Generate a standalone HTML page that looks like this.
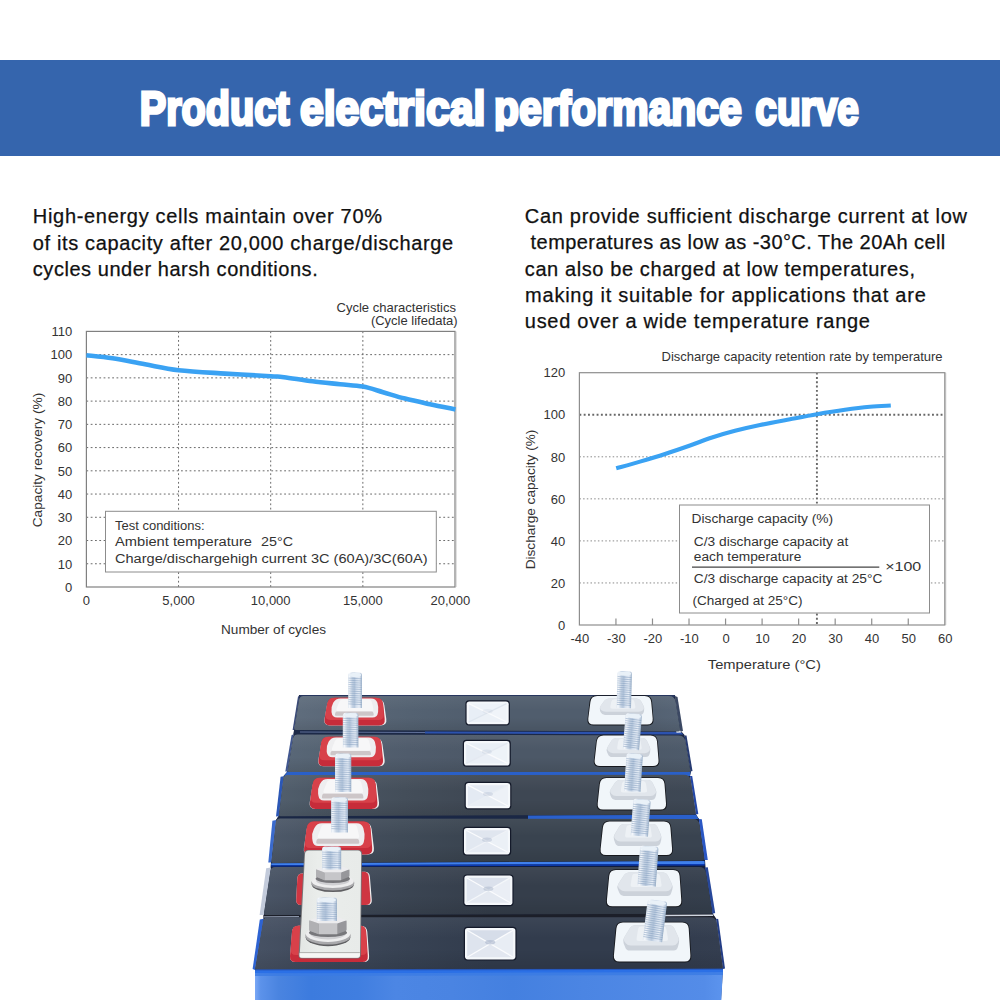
<!DOCTYPE html>
<html><head><meta charset="utf-8"><title>Product electrical performance curve</title>
<style>
html,body{margin:0;padding:0;background:#fff;}
body{width:1000px;height:1000px;overflow:hidden;position:relative;font-family:"Liberation Sans",sans-serif;}
svg{position:absolute;left:0;top:0;}
svg text{font-family:"Liberation Sans",sans-serif;}
.banner{position:absolute;left:0;top:60px;width:1000px;height:95.6px;background:#3565ad;}
.title{position:absolute;left:141px;top:60px;height:95px;white-space:nowrap;color:#fff;font-weight:bold;font-size:52px;line-height:95px;transform-origin:0 50%;}
.p{position:absolute;white-space:nowrap;color:#111;-webkit-text-stroke:0.25px #111;font-size:20px;line-height:24px;height:24px;}
</style></head><body>
<div class="banner"></div>
<div class="p" style="left:32.800000000000004px;top:204.1px;letter-spacing:0.691px">High-energy cells maintain over 70%</div>
<div class="p" style="left:32.800000000000004px;top:230.8px;letter-spacing:0.635px">of its capacity after 20,000 charge/discharge</div>
<div class="p" style="left:32.800000000000004px;top:257.2px;letter-spacing:0.547px">cycles under harsh conditions.</div>
<div class="p" style="left:524.8000000000001px;top:204.1px;letter-spacing:0.703px">Can provide sufficient discharge current at low</div>
<div class="p" style="left:530.6px;top:230.4px;letter-spacing:0.428px">temperatures as low as -30°C. The 20Ah cell</div>
<div class="p" style="left:524.8000000000001px;top:257.1px;letter-spacing:0.598px">can also be charged at low temperatures,</div>
<div class="p" style="left:525.1px;top:282.9px;letter-spacing:0.761px">making it suitable for applications that are</div>
<div class="p" style="left:524.8000000000001px;top:309.1px;letter-spacing:0.724px">used over a wide temperature range</div>
<svg width="1000" height="1000" viewBox="0 0 1000 1000">
<defs><clipPath id="tclip"><rect x="0" y="60" width="1000" height="71.5"/></clipPath></defs><text x="139.7" y="125.0" font-size="47.5" font-weight="bold" fill="#fff" stroke="#fff" stroke-width="3.0" stroke-linejoin="miter" textLength="149.8" lengthAdjust="spacingAndGlyphs" clip-path="url(#tclip)">Product</text><text x="299.9" y="125.0" font-size="47.5" font-weight="bold" fill="#fff" stroke="#fff" stroke-width="3.0" stroke-linejoin="miter" textLength="185.6" lengthAdjust="spacingAndGlyphs" clip-path="url(#tclip)">electrical</text><text x="493.9" y="125.0" font-size="47.5" font-weight="bold" fill="#fff" stroke="#fff" stroke-width="3.0" stroke-linejoin="miter" textLength="248.0" lengthAdjust="spacingAndGlyphs" clip-path="url(#tclip)">performance</text><text x="755.3" y="125.0" font-size="47.5" font-weight="bold" fill="#fff" stroke="#fff" stroke-width="3.0" stroke-linejoin="miter" textLength="103.6" lengthAdjust="spacingAndGlyphs" clip-path="url(#tclip)">curve</text>
<g fill="none" stroke="#6a6a6a" stroke-width="1" stroke-dasharray="1.8 2.5"><line x1="86.4" y1="563.76" x2="455.0" y2="563.76"/><line x1="86.4" y1="540.53" x2="455.0" y2="540.53"/><line x1="86.4" y1="517.29" x2="455.0" y2="517.29"/><line x1="86.4" y1="494.05" x2="455.0" y2="494.05"/><line x1="86.4" y1="470.82" x2="455.0" y2="470.82"/><line x1="86.4" y1="447.58" x2="455.0" y2="447.58"/><line x1="86.4" y1="424.35" x2="455.0" y2="424.35"/><line x1="86.4" y1="401.11" x2="455.0" y2="401.11"/><line x1="86.4" y1="377.87" x2="455.0" y2="377.87"/><line x1="86.4" y1="354.64" x2="455.0" y2="354.64"/><line x1="178.55" y1="331.4" x2="178.55" y2="587.0"/><line x1="270.70" y1="331.4" x2="270.70" y2="587.0"/><line x1="362.85" y1="331.4" x2="362.85" y2="587.0"/></g>
<rect x="86.4" y="331.4" width="368.6" height="255.60000000000002" fill="none" stroke="#808080" stroke-width="1.2"/>
<line x1="455.8" y1="331.4" x2="455.8" y2="587.0" stroke="#b5b5b5" stroke-width="1.2"/>
<path d="M86.4,355.2 C90.75,355.70 102.73,356.68 112.5,358.2 C122.27,359.72 133.98,362.30 145,364.3 C156.02,366.30 165.27,368.65 178.6,370.2 C191.93,371.75 209.65,372.60 225,373.6 C240.35,374.60 260.87,375.60 270.7,376.2 C280.53,376.80 277.03,376.35 284,377.2 C290.97,378.05 303.17,380.13 312.5,381.3 C321.83,382.47 331.62,383.32 340,384.2 C348.38,385.08 355.63,385.27 362.8,386.6 C369.97,387.93 375.97,390.20 383,392.2 C390.03,394.20 397.17,396.60 405,398.6 C412.83,400.60 421.58,402.40 430,404.2 C438.42,406.00 451.25,408.53 455.5,409.4" fill="none" stroke="#3aa2f3" stroke-width="4.6"/>
<text x="72.3" y="591.7" font-size="13" text-anchor="end" fill="#333">0</text><text x="72.3" y="568.5" font-size="13" text-anchor="end" fill="#333">10</text><text x="72.3" y="545.2" font-size="13" text-anchor="end" fill="#333">20</text><text x="72.3" y="522.0" font-size="13" text-anchor="end" fill="#333">30</text><text x="72.3" y="498.8" font-size="13" text-anchor="end" fill="#333">40</text><text x="72.3" y="475.5" font-size="13" text-anchor="end" fill="#333">50</text><text x="72.3" y="452.3" font-size="13" text-anchor="end" fill="#333">60</text><text x="72.3" y="429.0" font-size="13" text-anchor="end" fill="#333">70</text><text x="72.3" y="405.8" font-size="13" text-anchor="end" fill="#333">80</text><text x="72.3" y="382.6" font-size="13" text-anchor="end" fill="#333">90</text><text x="72.3" y="359.3" font-size="13" text-anchor="end" fill="#333">100</text><text x="72.3" y="336.1" font-size="13" text-anchor="end" fill="#333">110</text>
<text x="86.4" y="605.2" font-size="13" text-anchor="middle" fill="#333">0</text><text x="178.6" y="605.2" font-size="13" text-anchor="middle" fill="#333">5,000</text><text x="270.7" y="605.2" font-size="13" text-anchor="middle" fill="#333">10,000</text><text x="362.9" y="605.2" font-size="13" text-anchor="middle" fill="#333">15,000</text><text x="470.2" y="605.2" font-size="13" text-anchor="end" fill="#333">20,000</text>
<text x="456" y="312" font-size="13" text-anchor="end" textLength="119.5" lengthAdjust="spacingAndGlyphs" fill="#333">Cycle characteristics</text><text x="457.6" y="325.2" font-size="13" text-anchor="end" fill="#333">(Cycle lifedata)</text><text x="273.5" y="634" font-size="13" text-anchor="middle" textLength="105" lengthAdjust="spacingAndGlyphs" fill="#333">Number of cycles</text><text transform="translate(41.7,460) rotate(-90)" font-size="13" text-anchor="middle" textLength="134.5" lengthAdjust="spacingAndGlyphs" fill="#333">Capacity recovery (%)</text>
<rect x="105.5" y="511.3" width="330.8" height="60.7" fill="#fff" stroke="#8c8c8c" stroke-width="1"/>
<text x="115" y="530" font-size="12.5" textLength="89.5" lengthAdjust="spacingAndGlyphs" fill="#333">Test conditions:</text><text x="115" y="546.3" font-size="12.5" textLength="137" lengthAdjust="spacingAndGlyphs" fill="#333">Ambient temperature</text><text x="261" y="546.3" font-size="12.5" textLength="32" lengthAdjust="spacingAndGlyphs" fill="#333">25°C</text><text x="115" y="562.5" font-size="12.5" textLength="312.5" lengthAdjust="spacingAndGlyphs" fill="#333">Charge/dischargehigh current 3C (60A)/3C(60A)</text>
<g fill="none" stroke="#8a8a8a" stroke-width="1" stroke-dasharray="1.5 2.2"><line x1="579.4" y1="582.95" x2="944.8" y2="582.95"/><line x1="579.4" y1="540.90" x2="944.8" y2="540.90"/><line x1="579.4" y1="498.85" x2="944.8" y2="498.85"/><line x1="579.4" y1="456.80" x2="944.8" y2="456.80"/></g>
<line x1="579.4" y1="414.75" x2="944.8" y2="414.75" stroke="#686868" stroke-width="1.9" stroke-dasharray="1.9 2.4"/>
<line x1="816.91" y1="372.7" x2="816.91" y2="625.0" stroke="#686868" stroke-width="1.9" stroke-dasharray="1.9 2.4"/>
<rect x="579.4" y="372.7" width="365.4" height="252.3" fill="none" stroke="#8e8e8e" stroke-width="1.2"/>
<line x1="945.5999999999999" y1="372.7" x2="945.5999999999999" y2="625.0" stroke="#bdbdbd" stroke-width="1.2"/>
<g stroke="#8e8e8e" stroke-width="1.2"><line x1="615.94" y1="618.5" x2="615.94" y2="625.0"/><line x1="652.48" y1="618.5" x2="652.48" y2="625.0"/><line x1="689.02" y1="618.5" x2="689.02" y2="625.0"/><line x1="725.56" y1="618.5" x2="725.56" y2="625.0"/><line x1="762.10" y1="618.5" x2="762.10" y2="625.0"/><line x1="798.64" y1="618.5" x2="798.64" y2="625.0"/><line x1="835.18" y1="618.5" x2="835.18" y2="625.0"/><line x1="871.72" y1="618.5" x2="871.72" y2="625.0"/><line x1="908.26" y1="618.5" x2="908.26" y2="625.0"/></g>
<path d="M616.2,468.3 C620.17,467.18 631.87,463.98 640,461.6 C648.13,459.22 656.67,456.68 665,454 C673.33,451.32 682.17,448.25 690,445.5 C697.83,442.75 704.50,439.95 712,437.5 C719.50,435.05 727.00,432.88 735,430.8 C743.00,428.72 750.83,426.93 760,425 C769.17,423.07 780.50,421.00 790,419.2 C799.50,417.40 807.83,415.77 817,414.2 C826.17,412.63 836.17,411.03 845,409.8 C853.83,408.57 862.37,407.52 870,406.8 C877.63,406.08 887.33,405.72 890.8,405.5" fill="none" stroke="#3aa2f3" stroke-width="4.1"/>
<text x="565.3" y="629.7" font-size="13" text-anchor="end" fill="#333">0</text><text x="565.3" y="587.7" font-size="13" text-anchor="end" fill="#333">20</text><text x="565.3" y="545.6" font-size="13" text-anchor="end" fill="#333">40</text><text x="565.3" y="503.6" font-size="13" text-anchor="end" fill="#333">60</text><text x="565.3" y="461.5" font-size="13" text-anchor="end" fill="#333">80</text><text x="565.3" y="419.4" font-size="13" text-anchor="end" fill="#333">100</text><text x="565.3" y="377.4" font-size="13" text-anchor="end" fill="#333">120</text>
<text x="579.8" y="642.6" font-size="13" text-anchor="middle" fill="#333">-40</text><text x="616.3" y="642.6" font-size="13" text-anchor="middle" fill="#333">-30</text><text x="652.9" y="642.6" font-size="13" text-anchor="middle" fill="#333">-20</text><text x="689.4" y="642.6" font-size="13" text-anchor="middle" fill="#333">-10</text><text x="726.0" y="642.6" font-size="13" text-anchor="middle" fill="#333">0</text><text x="762.5" y="642.6" font-size="13" text-anchor="middle" fill="#333">10</text><text x="799.0" y="642.6" font-size="13" text-anchor="middle" fill="#333">20</text><text x="835.6" y="642.6" font-size="13" text-anchor="middle" fill="#333">30</text><text x="872.1" y="642.6" font-size="13" text-anchor="middle" fill="#333">40</text><text x="908.7" y="642.6" font-size="13" text-anchor="middle" fill="#333">50</text><text x="945.2" y="642.6" font-size="13" text-anchor="middle" fill="#333">60</text>
<text x="942.6" y="361" font-size="13" text-anchor="end" textLength="281" lengthAdjust="spacingAndGlyphs" fill="#333">Discharge capacity retention rate by temperature</text><text x="764.3" y="668.8" font-size="13" text-anchor="middle" textLength="113" lengthAdjust="spacingAndGlyphs" fill="#333">Temperature (°C)</text><text transform="translate(535,499.5) rotate(-90)" font-size="13" text-anchor="middle" textLength="139.5" lengthAdjust="spacingAndGlyphs" fill="#333">Discharge capacity (%)</text>
<rect x="679.5" y="505" width="250" height="108" fill="#fff" stroke="#8c8c8c" stroke-width="1"/>
<text x="691.6" y="522.6" font-size="12.5" textLength="141.5" lengthAdjust="spacingAndGlyphs" fill="#333">Discharge capacity (%)</text><text x="693.8" y="545.8" font-size="12.5" textLength="154.5" lengthAdjust="spacingAndGlyphs" fill="#333">C/3 discharge capacity at</text><text x="693.8" y="560.8" font-size="12.5" textLength="107.5" lengthAdjust="spacingAndGlyphs" fill="#333">each temperature</text><line x1="692" y1="567.2" x2="879.3" y2="567.2" stroke="#444" stroke-width="1.2"/><text x="693.8" y="582.6" font-size="12.5" textLength="188.5" lengthAdjust="spacingAndGlyphs" fill="#333">C/3 discharge capacity at 25°C</text><text x="692.5" y="605" font-size="12.5" textLength="110" lengthAdjust="spacingAndGlyphs" fill="#333">(Charged at 25°C)</text><text x="885.2" y="570.8" font-size="12.5" textLength="36" lengthAdjust="spacingAndGlyphs" fill="#333">×100</text>
<defs>
<linearGradient id="bolt" x1="0" x2="1" y1="0" y2="0">
<stop offset="0" stop-color="#dfe7f0"/><stop offset="0.1" stop-color="#f5f8fc"/><stop offset="0.3" stop-color="#c5d3e4"/><stop offset="0.45" stop-color="#b7c8dd"/><stop offset="0.6" stop-color="#d5e0ee"/><stop offset="0.8" stop-color="#e6edf6"/><stop offset="0.93" stop-color="#bccbde"/><stop offset="1" stop-color="#9bb0c7"/>
</linearGradient>
<linearGradient id="face" x1="0" x2="1" y1="0" y2="0">
<stop offset="0" stop-color="#2b2e36"/><stop offset="0.45" stop-color="#33363e"/><stop offset="1" stop-color="#2c2f37"/>
</linearGradient>
<linearGradient id="front" x1="0" x2="1" y1="0" y2="0">
<stop offset="0" stop-color="#7aa8f6"/><stop offset="0.012" stop-color="#5c92ea"/><stop offset="0.05" stop-color="#4a84e0"/><stop offset="0.12" stop-color="#3c7bde"/><stop offset="0.22" stop-color="#407ee0"/><stop offset="0.3" stop-color="#4c86e4"/><stop offset="0.42" stop-color="#4a84e2"/><stop offset="0.55" stop-color="#4480e0"/><stop offset="0.7" stop-color="#4b85e3"/><stop offset="0.96" stop-color="#548ce8"/><stop offset="1" stop-color="#5c94ee"/>
</linearGradient>
<linearGradient id="steel" x1="0" x2="0" y1="0" y2="1">
<stop offset="0" stop-color="#f4f4f5"/><stop offset="0.6" stop-color="#e4e4e6"/><stop offset="1" stop-color="#cdcdd0"/>
</linearGradient>
<linearGradient id="bus" x1="0" x2="1" y1="0" y2="0">
<stop offset="0" stop-color="#e3e6e4"/><stop offset="0.3" stop-color="#eaedeb"/><stop offset="1" stop-color="#e8ebe9"/>
</linearGradient>
<linearGradient id="vent" x1="0" x2="1" y1="0" y2="1">
<stop offset="0" stop-color="#f2f3f5"/><stop offset="0.5" stop-color="#dfe1e5"/><stop offset="1" stop-color="#eceef0"/>
</linearGradient>
<linearGradient id="cf0" x1="0" x2="1" y1="0" y2="0"><stop offset="0" stop-color="#5f6d7d"/><stop offset="0.12" stop-color="#5a6777"/><stop offset="0.3" stop-color="#546272"/><stop offset="0.5" stop-color="#505d6d"/><stop offset="0.85" stop-color="#505d6d"/><stop offset="1" stop-color="#576576"/></linearGradient>
<linearGradient id="cf1" x1="0" x2="1" y1="0" y2="0"><stop offset="0" stop-color="#596777"/><stop offset="0.12" stop-color="#546271"/><stop offset="0.3" stop-color="#505c6c"/><stop offset="0.5" stop-color="#4c5867"/><stop offset="0.85" stop-color="#4c5867"/><stop offset="1" stop-color="#4e5b6b"/></linearGradient>
<linearGradient id="cf2" x1="0" x2="1" y1="0" y2="0"><stop offset="0" stop-color="#515e6c"/><stop offset="0.12" stop-color="#4a5663"/><stop offset="0.3" stop-color="#444e5a"/><stop offset="0.5" stop-color="#3e4753"/><stop offset="0.85" stop-color="#3e4753"/><stop offset="1" stop-color="#3e4855"/></linearGradient>
<linearGradient id="cf3" x1="0" x2="1" y1="0" y2="0"><stop offset="0" stop-color="#4d5969"/><stop offset="0.12" stop-color="#465160"/><stop offset="0.3" stop-color="#3f4a57"/><stop offset="0.5" stop-color="#39434f"/><stop offset="0.85" stop-color="#39434f"/><stop offset="1" stop-color="#394350"/></linearGradient>
<linearGradient id="cf4" x1="0" x2="1" y1="0" y2="0"><stop offset="0" stop-color="#4a5566"/><stop offset="0.12" stop-color="#434d5d"/><stop offset="0.3" stop-color="#3b4553"/><stop offset="0.5" stop-color="#353e4b"/><stop offset="0.85" stop-color="#353e4b"/><stop offset="1" stop-color="#353f4d"/></linearGradient>
<linearGradient id="cf5" x1="0" x2="1" y1="0" y2="0"><stop offset="0" stop-color="#475264"/><stop offset="0.12" stop-color="#404a5c"/><stop offset="0.3" stop-color="#384354"/><stop offset="0.5" stop-color="#323c4d"/><stop offset="0.85" stop-color="#323c4d"/><stop offset="1" stop-color="#343e50"/></linearGradient>
<linearGradient id="shade" x1="0" x2="0" y1="0" y2="1"><stop offset="0" stop-color="#fff" stop-opacity="0.05"/><stop offset="0.4" stop-color="#fff" stop-opacity="0"/><stop offset="0.6" stop-color="#000" stop-opacity="0"/><stop offset="1" stop-color="#000" stop-opacity="0.1"/></linearGradient>
</defs>
<polygon points="299,695 675,695 681,731 684.5,735 691,772 690,776 696,815 699,819 705,860 705.5,867 713,914 716,918.5 723,969 721,1000 255,1000 255,969 263.5,918 263.5,915 270.5,868 271,862 276,820 278.5,816 283.5,776 287,772 293.4,734.5 294,730" fill="#1b2542"/>
<polygon points="299.6,695 674.8,695 674.8,697 299.6,697" fill="#27365e"/><polygon points="294.2,730 680.4,731.5 684.4,735.5 293.6,734.5" fill="#1c2947"/><polygon points="300,731.6 425,732.0 425,733.0 300,732.6" fill="#5f6f98"/><polygon points="425,731.6 680.4,731.9 683.5,734.4 425,733.4" fill="#2c52ae"/><polygon points="676,730.2 680.8,730.2 681.5,732.6 676.5,732.8" fill="#e9edf5"/><polygon points="287.5,771.5 690.5,771.5 690,776 283.75,776.25" fill="#2a60c8"/><polygon points="278.75,816.25 696,814.5 698.75,819 276.25,820" fill="#1a2745"/><polygon points="528,815.6 696,814.7 698.75,819 528,819.3" fill="#2a60cc"/><polygon points="271.25,862.3 704.5,860.4 705,867.5 271,867.5" fill="#111d40"/><polygon points="271.25,863.2 704.5,860.9 704.7,864.0 271.2,865.2" fill="#4080ec"/><polygon points="271.2,865.2 704.7,864.0 704.9,865.6 271.1,866.4" fill="#0b3ab2"/><polygon points="263.75,915 712.5,913.75 716,918.75 263.75,918.75" fill="#1c1f29"/><polygon points="264,916.2 299,916.0 299,917.2 264,917.4" fill="#8d97ab"/><polygon points="663,914.8 712.8,914.5 713.4,916 663,916.2" fill="#cfd5e0"/>
<polygon points="299.6,696 294.2,730 292.6,730 298,696.5" fill="#3a4a78"/><polygon points="293.6,734.5 287.5,771.5 285.3,771.5 291.6,735" fill="#41578f"/><polygon points="283.75,776.25 278.75,816.25 276,816.5 280.6,776.8" fill="#2c57b5"/><polygon points="276.25,820 271.25,862.5 268.3,862.5 272.4,820.8" fill="#3a6acc"/><polygon points="271,867.5 263.75,915 259.6,915 266.2,868.3" fill="#c3cbdb"/><polygon points="263.75,918.75 255,970 252.6,969 259.8,919.6" fill="#2e63d2"/>
<polygon points="674.8,696 680.4,731.5 683,731 677.5,697" fill="#3b4863"/><polygon points="684.4,735.5 690.5,771.5 692.5,771 686.5,735.5" fill="#263a70"/><polygon points="690,776 696,814.5 698.3,814 692.2,776" fill="#2447a6"/><polygon points="698.75,819 704.5,860 707.8,860 701.8,819.3" fill="#2a57c4"/><polygon points="705,867.5 712.5,913.75 715.2,913 707.8,867.2" fill="#27479a"/><polygon points="716,918.75 723,969 725,968.5 718.2,918.9" fill="#233d86"/>
<path d="M299.0,700.0 Q299.6,696.0 303.6,696.0 L668.8,696.0 Q674.8,696.0 675.7,701.9 L680.0,729.0 Q680.4,731.5 677.9,731.5 L296.2,730.0 Q294.2,730.0 294.5,728.0 Z" fill="url(#cf0)"/><path d="M299.0,700.0 Q299.6,696.0 303.6,696.0 L668.8,696.0 Q674.8,696.0 675.7,701.9 L680.0,729.0 Q680.4,731.5 677.9,731.5 L296.2,730.0 Q294.2,730.0 294.5,728.0 Z" fill="url(#shade)"/><path d="M293.0,738.4 Q293.6,734.5 297.6,734.5 L678.4,735.5 Q684.4,735.5 685.4,741.4 L690.1,769.5 Q690.5,772.0 688.0,772.0 L289.5,772.0 Q287.5,772.0 287.8,770.0 Z" fill="url(#cf1)"/><path d="M293.0,738.4 Q293.6,734.5 297.6,734.5 L678.4,735.5 Q684.4,735.5 685.4,741.4 L690.1,769.5 Q690.5,772.0 688.0,772.0 L289.5,772.0 Q287.5,772.0 287.8,770.0 Z" fill="url(#shade)"/><path d="M283.3,779.0 Q283.8,775.0 287.7,775.0 L684.0,774.8 Q690.0,774.8 690.9,780.7 L695.6,812.0 Q696.0,814.5 693.5,814.5 L280.7,816.2 Q278.8,816.2 279.0,814.3 Z" fill="url(#cf2)"/><path d="M283.3,779.0 Q283.8,775.0 287.7,775.0 L684.0,774.8 Q690.0,774.8 690.9,780.7 L695.6,812.0 Q696.0,814.5 693.5,814.5 L280.7,816.2 Q278.8,816.2 279.0,814.3 Z" fill="url(#shade)"/><path d="M275.8,822.6 Q276.2,818.6 280.2,818.6 L692.8,819.0 Q698.8,819.0 699.6,824.9 L704.2,858.0 Q704.5,860.5 702.0,860.5 L273.2,863.0 Q271.2,863.0 271.5,861.0 Z" fill="url(#cf3)"/><path d="M275.8,822.6 Q276.2,818.6 280.2,818.6 L692.8,819.0 Q698.8,819.0 699.6,824.9 L704.2,858.0 Q704.5,860.5 702.0,860.5 L273.2,863.0 Q271.2,863.0 271.5,861.0 Z" fill="url(#shade)"/><path d="M270.4,871.0 Q271.0,867.0 275.0,867.0 L699.0,867.0 Q705.0,867.0 706.0,872.9 L712.1,911.3 Q712.5,913.8 710.0,913.8 L265.7,915.0 Q263.8,915.0 264.0,913.0 Z" fill="url(#cf4)"/><path d="M270.4,871.0 Q271.0,867.0 275.0,867.0 L699.0,867.0 Q705.0,867.0 706.0,872.9 L712.1,911.3 Q712.5,913.8 710.0,913.8 L265.7,915.0 Q263.8,915.0 264.0,913.0 Z" fill="url(#shade)"/><path d="M263.1,921.1 Q263.8,917.2 267.8,917.2 L710.0,917.2 Q716.0,917.2 716.8,923.1 L722.7,966.5 Q723.0,969.0 720.5,969.0 L257.0,970.0 Q255.0,970.0 255.3,968.0 Z" fill="url(#cf5)"/><path d="M263.1,921.1 Q263.8,917.2 267.8,917.2 L710.0,917.2 Q716.0,917.2 716.8,923.1 L722.7,966.5 Q723.0,969.0 720.5,969.0 L257.0,970.0 Q255.0,970.0 255.3,968.0 Z" fill="url(#shade)"/>
<polygon points="255,970 723,969 721.3,1000 255,1000" fill="url(#front)"/><polygon points="255,969.6 723,968.8 723,972.4 255,973.4" fill="#2b70e6"/><polygon points="255,973.4 723,972.4 723,975 255,976" fill="#3a7ae4" opacity="0.8"/><polygon points="255,969.3 723,968.5 723,969.8 255,970.6" fill="#1e3f9a" opacity="0.45"/>
<rect x="465.40000000000003" y="700.1999999999999" width="44.5" height="25.2" rx="3.6" fill="#141a2a"/><rect x="466.6" y="701.4" width="42.1" height="22.8" rx="2.8" fill="#f5f8fb"/><polygon points="468.8,703.6 487.6,712.8 468.8,722.0" fill="#e8eef6"/><polygon points="468.8,722.0 487.6,712.8 506.5,722.0" fill="#ecf1f7"/><polygon points="506.5,703.6 487.6,712.8 506.5,722.0" fill="#f0f4f9"/><polygon points="468.8,703.6 487.6,712.8 506.5,703.6" fill="#eef3f9"/><path d="M468.8,722.0 L506.5,703.6" stroke="#dee5ee" stroke-width="1.3" fill="none"/><path d="M468.8,703.6 L506.5,722.0" stroke="#fafbfd" stroke-width="1.3" fill="none"/><ellipse cx="487.6" cy="711.3" rx="5" ry="2.2" fill="#aab6cb" opacity="0.15"/><rect x="462.8" y="739.8" width="48.0" height="27.0" rx="3.6" fill="#141a2a"/><rect x="464" y="741" width="45.6" height="24.6" rx="2.8" fill="#f5f8fb"/><polygon points="466.2,743.2 486.8,753.3 466.2,763.4" fill="#e6ecf4"/><polygon points="466.2,763.4 486.8,753.3 507.40000000000003,763.4" fill="#eaeff6"/><polygon points="507.40000000000003,743.2 486.8,753.3 507.40000000000003,763.4" fill="#eef3f8"/><polygon points="466.2,743.2 486.8,753.3 507.40000000000003,743.2" fill="#e9eff6"/><path d="M466.2,763.4 L507.40000000000003,743.2" stroke="#e4e9f1" stroke-width="1.3" fill="none"/><path d="M466.2,743.2 L507.40000000000003,763.4" stroke="#fafbfd" stroke-width="1.3" fill="none"/><ellipse cx="486.8" cy="751.8" rx="5" ry="2.2" fill="#aab6cb" opacity="0.24"/><rect x="464.6" y="781.8" width="46.8" height="27.6" rx="3.6" fill="#141a2a"/><rect x="465.8" y="783" width="44.4" height="25.2" rx="2.8" fill="#f5f8fb"/><polygon points="468.0,785.2 488.0,795.6 468.0,806.0" fill="#e4eaf3"/><polygon points="468.0,806.0 488.0,795.6 508.0,806.0" fill="#e8edf4"/><polygon points="508.0,785.2 488.0,795.6 508.0,806.0" fill="#edf1f7"/><polygon points="468.0,785.2 488.0,795.6 508.0,785.2" fill="#e4eaf3"/><path d="M468.0,806.0 L508.0,785.2" stroke="#e9eef4" stroke-width="1.3" fill="none"/><path d="M468.0,785.2 L508.0,806.0" stroke="#fafbfd" stroke-width="1.3" fill="none"/><ellipse cx="488.0" cy="794.1" rx="5" ry="2.2" fill="#aab6cb" opacity="0.33"/><rect x="462.8" y="826.8" width="48.4" height="28.8" rx="3.6" fill="#141a2a"/><rect x="464" y="828" width="46.0" height="26.4" rx="2.8" fill="#f5f8fb"/><polygon points="466.2,830.2 487.0,841.2 466.2,852.1999999999999" fill="#e2e8f1"/><polygon points="466.2,852.1999999999999 487.0,841.2 507.8,852.1999999999999" fill="#e6ebf3"/><polygon points="507.8,830.2 487.0,841.2 507.8,852.1999999999999" fill="#ebf0f6"/><polygon points="466.2,830.2 487.0,841.2 507.8,830.2" fill="#e0e6ef"/><path d="M466.2,852.1999999999999 L507.8,830.2" stroke="#eff2f7" stroke-width="1.3" fill="none"/><path d="M466.2,830.2 L507.8,852.1999999999999" stroke="#fafbfd" stroke-width="1.3" fill="none"/><ellipse cx="487.0" cy="839.7" rx="5" ry="2.2" fill="#aab6cb" opacity="0.42"/><rect x="463.2" y="874.4" width="50.4" height="31.8" rx="3.6" fill="#141a2a"/><rect x="464.4" y="875.6" width="48.0" height="29.4" rx="2.8" fill="#f5f8fb"/><polygon points="466.59999999999997,877.8000000000001 488.4,890.3 466.59999999999997,902.8" fill="#e0e6f0"/><polygon points="466.59999999999997,902.8 488.4,890.3 510.2,902.8" fill="#e4e9f1"/><polygon points="510.2,877.8000000000001 488.4,890.3 510.2,902.8" fill="#eaeef5"/><polygon points="466.59999999999997,877.8000000000001 488.4,890.3 510.2,877.8000000000001" fill="#dbe1ec"/><path d="M466.59999999999997,902.8 L510.2,877.8000000000001" stroke="#f4f7fa" stroke-width="1.3" fill="none"/><path d="M466.59999999999997,877.8000000000001 L510.2,902.8" stroke="#fafbfd" stroke-width="1.3" fill="none"/><ellipse cx="488.4" cy="888.8" rx="5" ry="2.2" fill="#aab6cb" opacity="0.51"/><rect x="463.8" y="926.8" width="52.8" height="33.8" rx="3.6" fill="#141a2a"/><rect x="465" y="928" width="50.4" height="31.4" rx="2.8" fill="#f5f8fb"/><polygon points="467.2,930.2 490.2,943.7 467.2,957.1999999999999" fill="#dee4ee"/><polygon points="467.2,957.1999999999999 490.2,943.7 513.1999999999999,957.1999999999999" fill="#e2e7f0"/><polygon points="513.1999999999999,930.2 490.2,943.7 513.1999999999999,957.1999999999999" fill="#e8edf4"/><polygon points="467.2,930.2 490.2,943.7 513.1999999999999,930.2" fill="#d6dde9"/><path d="M467.2,957.1999999999999 L513.1999999999999,930.2" stroke="#fafbfd" stroke-width="1.3" fill="none"/><path d="M467.2,930.2 L513.1999999999999,957.1999999999999" stroke="#fafbfd" stroke-width="1.3" fill="none"/><ellipse cx="490.2" cy="942.2" rx="5" ry="2.2" fill="#aab6cb" opacity="0.60"/>
<path d="M326.9,705.4 Q328.1,699.0 334.6,699.0 L377.0,699.0 Q383.5,699.0 384.4,705.4 L386.3,719.0 Q387.2,725.4 380.7,725.4 L329.8,725.4 Q323.3,725.4 324.5,719.0 Z" fill="#f1eeee"/><path d="M327.1,704.2 Q328.1,697.8 334.6,697.8 L376.0,697.8 Q382.5,697.8 383.2,704.3 L384.7,718.9 Q385.4,725.4 378.9,725.4 L330.1,725.4 Q323.6,725.4 324.6,719.0 Z" fill="#c72c3a"/><path d="M327.4,703.7 Q328.4,697.8 334.4,697.8 L376.3,697.8 Q382.3,697.8 382.8,703.8 L383.7,713.9 Q384.2,719.9 378.2,719.9 L330.6,719.9 Q324.6,719.9 325.6,714.0 Z" fill="#d8414a"/><path d="M333.2,702.7 Q335.6,698.4 340.6,698.4 L370.9,698.4 Q375.9,698.4 377.4,702.7 L377.4,702.7 Q378.8,707.0 378.1,712.0 L378.0,712.6 Q377.4,717.6 372.4,717.6 L337.2,717.6 Q332.2,717.6 331.6,712.6 L331.5,712.0 Q330.8,707.0 333.2,702.7 Z" fill="#eeeef0"/><path d="M335.3,712.9 Q335.6,711.5 337.1,711.5 L371.5,711.5 Q373.0,711.5 373.4,712.9 L373.7,714.2 Q374.0,715.7 372.5,715.7 L336.1,715.7 Q334.6,715.7 335.0,714.2 Z" fill="#cdc6c8"/><path d="M339.3,702.0 Q340.4,699.2 343.4,699.2 L368.1,699.2 Q371.1,699.2 371.8,702.1 L373.3,708.2 Q374.0,711.1 371.0,711.1 L338.6,711.1 Q335.6,711.1 336.7,708.3 Z" fill="#f7f7f8"/><path d="M589.5,701.7 Q590.3,695.2 596.8,695.2 L645.0,695.2 Q651.5,695.2 652.1,701.7 L653.5,718.9 Q654.1,725.4 647.6,725.4 L593.2,725.4 Q586.7,725.4 587.5,718.9 Z" fill="#17191e"/><path d="M590.4,702.0 Q591.1,696.0 597.1,696.0 L644.7,696.0 Q650.7,696.0 651.2,702.0 L652.7,718.5 Q653.2,724.5 647.2,724.5 L593.6,724.5 Q587.6,724.5 588.3,718.5 Z" fill="#f1f6fa"/><path d="M604.4,700.8 Q606.2,698.4 609.2,698.4 L636.5,698.4 Q639.5,698.4 640.9,701.0 L643.5,705.7 Q645.0,708.4 644.0,711.2 L643.7,712.2 Q642.7,715.0 639.7,715.0 L605.0,715.0 Q602.0,715.0 600.7,712.3 L600.1,711.1 Q598.8,708.4 600.6,706.0 Z" fill="#ccd2da"/><path d="M604.4,700.8 Q606.2,698.4 609.2,698.4 L636.5,698.4 Q639.5,698.4 640.9,701.0 L643.3,705.4 Q644.7,708.0 643.2,709.9 L643.2,709.9 Q641.8,711.7 638.8,711.7 L606.0,711.7 Q603.0,711.7 601.0,709.9 L601.0,709.9 Q599.1,708.0 600.9,705.6 Z" fill="#e1e6ec"/><path d="M611.3,701.7 Q611.7,699.2 614.2,699.2 L631.4,699.2 Q633.9,699.2 634.4,701.7 L635.3,706.2 Q635.8,708.7 633.3,708.7 L612.4,708.7 Q609.9,708.7 610.4,706.2 Z" fill="#edf1f5"/><g transform="rotate(0.00 355.1 708.0)"><path d="M348.2,708 L348.2,675.6 Q348.2,672.6 351.2,672.6 L359,672.6 Q362,672.6 362,675.6 L362,708 Z" fill="url(#bolt)"/><path d="M348.5,678.1 L361.7,678.8 M348.5,680.2 L361.7,681.0 M348.5,682.4 L361.7,683.1 M348.5,684.5 L361.7,685.2 M348.5,686.7 L361.7,687.4 M348.5,688.8 L361.7,689.5 M348.5,691.0 L361.7,691.7 M348.5,693.1 L361.7,693.8 M348.5,695.3 L361.7,696.0 M348.5,697.4 L361.7,698.1 M348.5,699.6 L361.7,700.3 M348.5,701.7 L361.7,702.4 M348.5,703.9 L361.7,704.6 " stroke="#7f9abb" stroke-width="0.8" opacity="0.6" fill="none"/><ellipse cx="355.1" cy="675.0" rx="6.1" ry="2.2" fill="#e9f1f8"/></g><g transform="rotate(1.56 623.8 708.0)"><path d="M616.5,708 L616.5,674.2 Q616.5,671.2 619.5,671.2 L628,671.2 Q631,671.2 631,674.2 L631,708 Z" fill="url(#bolt)"/><path d="M616.8,676.7 L630.7,677.4 M616.8,678.9 L630.7,679.6 M616.8,681.0 L630.7,681.7 M616.8,683.1 L630.7,683.9 M616.8,685.3 L630.7,686.0 M616.8,687.4 L630.7,688.1 M616.8,689.6 L630.7,690.3 M616.8,691.7 L630.7,692.4 M616.8,693.9 L630.7,694.6 M616.8,696.0 L630.7,696.7 M616.8,698.2 L630.7,698.9 M616.8,700.3 L630.7,701.0 M616.8,702.5 L630.7,703.2 M616.8,704.6 L630.7,705.3 " stroke="#7f9abb" stroke-width="0.8" opacity="0.6" fill="none"/><ellipse cx="623.8" cy="673.6" rx="6.5" ry="2.2" fill="#e9f1f8"/></g>
<path d="M321.0,744.4 Q322.1,738.0 328.6,738.0 L375.2,738.0 Q381.7,738.0 382.5,744.4 L384.6,759.8 Q385.4,766.2 378.9,766.2 L323.8,766.2 Q317.3,766.2 318.4,759.8 Z" fill="#f1eeee"/><path d="M321.1,743.2 Q322.1,736.8 328.6,736.8 L374.2,736.8 Q380.7,736.8 381.3,743.3 L383.0,759.7 Q383.6,766.2 377.1,766.2 L324.1,766.2 Q317.6,766.2 318.6,759.8 Z" fill="#c72c3a"/><path d="M321.4,742.7 Q322.4,736.8 328.4,736.8 L374.5,736.8 Q380.5,736.8 381.0,742.8 L381.9,754.3 Q382.4,760.3 376.4,760.3 L324.6,760.3 Q318.6,760.3 319.6,754.4 Z" fill="#d8414a"/><path d="M328.6,741.8 Q331.0,737.4 336.0,737.4 L368.4,737.4 Q373.4,737.4 374.9,741.9 L374.9,741.9 Q376.4,746.3 375.7,751.3 L375.6,752.2 Q374.9,757.2 369.9,757.2 L332.5,757.2 Q327.5,757.2 326.8,752.2 L326.7,751.3 Q326.0,746.3 328.5,742.0 Z" fill="#eeeef0"/><path d="M330.7,752.3 Q331.0,750.9 332.5,750.9 L368.9,750.9 Q370.4,750.9 370.7,752.3 L371.0,753.8 Q371.4,755.2 369.9,755.2 L331.5,755.2 Q330.0,755.2 330.4,753.8 Z" fill="#cdc6c8"/><path d="M334.9,741.0 Q336.1,738.2 339.1,738.2 L365.3,738.2 Q368.3,738.2 369.1,741.1 L370.6,747.6 Q371.4,750.5 368.4,750.5 L334.0,750.5 Q331.0,750.5 332.2,747.7 Z" fill="#f7f7f8"/><path d="M596.0,741.2 Q596.7,734.7 603.2,734.7 L650.8,734.7 Q657.3,734.7 657.8,741.2 L659.4,760.4 Q659.9,766.9 653.4,766.9 L599.6,766.9 Q593.1,766.9 593.8,760.4 Z" fill="#17191e"/><path d="M596.8,741.5 Q597.5,735.5 603.5,735.5 L650.5,735.5 Q656.5,735.5 657.0,741.5 L658.5,760.0 Q659.0,766.0 653.0,766.0 L600.0,766.0 Q594.0,766.0 594.7,760.0 Z" fill="#f1f6fa"/><path d="M611.6,740.5 Q613.2,738.0 616.2,738.0 L642.6,738.0 Q645.6,738.0 646.9,740.7 L649.7,746.7 Q651.0,749.4 650.1,752.3 L649.6,754.1 Q648.8,757.0 645.8,757.0 L612.1,757.0 Q609.1,757.0 608.0,754.2 L607.1,752.2 Q606.0,749.4 607.6,746.9 Z" fill="#ccd2da"/><path d="M611.6,740.5 Q613.2,738.0 616.2,738.0 L642.6,738.0 Q645.6,738.0 646.9,740.7 L649.4,746.3 Q650.7,749.0 649.3,751.1 L649.3,751.1 Q647.9,753.2 644.9,753.2 L613.0,753.2 Q610.0,753.2 608.2,751.1 L608.2,751.1 Q606.3,749.0 607.9,746.5 Z" fill="#e1e6ec"/><path d="M618.2,741.4 Q618.6,739.0 621.1,739.0 L637.7,739.0 Q640.2,739.0 640.6,741.4 L641.6,747.3 Q642.0,749.8 639.5,749.8 L619.3,749.8 Q616.8,749.8 617.2,747.3 Z" fill="#edf1f5"/><g transform="rotate(0.00 350.6 747.6)"><path d="M342.8,747.6 L342.8,715.8 Q342.8,712.8 345.8,712.8 L355.4,712.8 Q358.4,712.8 358.4,715.8 L358.4,747.6 Z" fill="url(#bolt)"/><path d="M343.1,718.3 L358.09999999999997,719.0 M343.1,720.4 L358.09999999999997,721.1 M343.1,722.6 L358.09999999999997,723.3 M343.1,724.7 L358.09999999999997,725.4 M343.1,726.9 L358.09999999999997,727.6 M343.1,729.0 L358.09999999999997,729.7 M343.1,731.2 L358.09999999999997,731.9 M343.1,733.3 L358.09999999999997,734.0 M343.1,735.5 L358.09999999999997,736.2 M343.1,737.6 L358.09999999999997,738.3 M343.1,739.8 L358.09999999999997,740.5 M343.1,741.9 L358.09999999999997,742.6 M343.1,744.1 L358.09999999999997,744.8 " stroke="#7f9abb" stroke-width="0.8" opacity="0.6" fill="none"/><ellipse cx="350.6" cy="715.1999999999999" rx="7.0" ry="2.2" fill="#e9f1f8"/></g><g transform="rotate(4.76 630.9 749.5)"><path d="M622.7,749.5 L622.7,716.5 Q622.7,713.5 625.7,713.5 L636.1,713.5 Q639.1,713.5 639.1,716.5 L639.1,749.5 Z" fill="url(#bolt)"/><path d="M623.0,719.0 L638.8000000000001,719.7 M623.0,721.1 L638.8000000000001,721.9 M623.0,723.3 L638.8000000000001,724.0 M623.0,725.4 L638.8000000000001,726.1 M623.0,727.6 L638.8000000000001,728.3 M623.0,729.7 L638.8000000000001,730.4 M623.0,731.9 L638.8000000000001,732.6 M623.0,734.0 L638.8000000000001,734.7 M623.0,736.2 L638.8000000000001,736.9 M623.0,738.3 L638.8000000000001,739.0 M623.0,740.5 L638.8000000000001,741.2 M623.0,742.6 L638.8000000000001,743.3 M623.0,744.8 L638.8000000000001,745.5 M623.0,746.9 L638.8000000000001,747.6 " stroke="#7f9abb" stroke-width="0.8" opacity="0.6" fill="none"/><ellipse cx="630.9" cy="715.9" rx="7.4" ry="2.2" fill="#e9f1f8"/></g>
<path d="M312.5,785.4 Q313.5,779.0 320.0,779.0 L369.6,779.0 Q376.1,779.0 376.9,785.5 L379.0,802.5 Q379.8,809.0 373.3,809.0 L315.2,809.0 Q308.7,809.0 309.7,802.6 Z" fill="#f1eeee"/><path d="M312.6,784.2 Q313.5,777.8 320.0,777.8 L368.6,777.8 Q375.1,777.8 375.7,784.3 L377.4,802.5 Q378.0,809.0 371.5,809.0 L315.5,809.0 Q309.0,809.0 309.9,802.6 Z" fill="#c72c3a"/><path d="M312.9,783.7 Q313.8,777.8 319.8,777.8 L368.9,777.8 Q374.9,777.8 375.4,783.8 L376.3,796.8 Q376.8,802.8 370.8,802.8 L316.0,802.8 Q310.0,802.8 310.9,796.8 Z" fill="#d8414a"/><path d="M320.3,783.4 Q322.6,779.0 327.6,779.0 L360.7,779.0 Q365.7,779.0 367.2,783.8 L367.3,783.9 Q368.8,788.7 368.2,793.6 L367.9,795.5 Q367.3,800.5 362.3,800.5 L324.0,800.5 Q319.0,800.5 318.4,795.5 L318.1,793.6 Q317.5,788.7 319.8,784.3 Z" fill="#eeeef0"/><path d="M322.3,795.1 Q322.6,793.6 324.1,793.6 L361.1,793.6 Q362.6,793.6 363.0,795.1 L363.4,796.9 Q363.7,798.4 362.2,798.4 L323.1,798.4 Q321.6,798.4 321.9,796.9 Z" fill="#cdc6c8"/><path d="M326.7,782.7 Q327.8,779.9 330.8,779.9 L357.6,779.9 Q360.6,779.9 361.3,782.8 L363.0,790.3 Q363.7,793.2 360.7,793.2 L325.6,793.2 Q322.6,793.2 323.7,790.4 Z" fill="#f7f7f8"/><path d="M599.0,783.7 Q599.7,777.2 606.2,777.2 L658.3,777.2 Q664.8,777.2 665.3,783.7 L666.9,803.9 Q667.4,810.4 660.9,810.4 L602.6,810.4 Q596.1,810.4 596.8,803.9 Z" fill="#17191e"/><path d="M599.8,784.0 Q600.5,778.0 606.5,778.0 L658.0,778.0 Q664.0,778.0 664.5,784.0 L666.0,803.5 Q666.5,809.5 660.5,809.5 L603.0,809.5 Q597.0,809.5 597.7,803.5 Z" fill="#f1f6fa"/><path d="M615.1,782.5 Q616.7,780.0 619.7,780.0 L648.2,780.0 Q651.2,780.0 652.5,782.7 L655.7,789.3 Q657.0,792.0 656.1,794.9 L655.5,797.1 Q654.6,800.0 651.6,800.0 L615.4,800.0 Q612.4,800.0 611.2,797.2 L610.2,794.8 Q609.0,792.0 610.6,789.5 Z" fill="#ccd2da"/><path d="M615.1,782.5 Q616.7,780.0 619.7,780.0 L648.2,780.0 Q651.2,780.0 652.5,782.7 L655.4,788.9 Q656.7,791.6 655.2,793.8 L655.2,793.8 Q653.6,796.0 650.6,796.0 L616.3,796.0 Q613.3,796.0 611.3,793.8 L611.3,793.8 Q609.3,791.6 610.9,789.1 Z" fill="#e1e6ec"/><path d="M622.0,783.5 Q622.4,781.0 624.9,781.0 L643.0,781.0 Q645.5,781.0 645.9,783.5 L647.0,789.9 Q647.4,792.4 644.9,792.4 L623.0,792.4 Q620.5,792.4 620.9,789.9 Z" fill="#edf1f5"/><g transform="rotate(0.00 343.1 792.0)"><path d="M335,792 L335,756.5 Q335,753.5 338,753.5 L348.3,753.5 Q351.3,753.5 351.3,756.5 L351.3,792 Z" fill="url(#bolt)"/><path d="M335.3,759.0 L351.0,759.7 M335.3,761.1 L351.0,761.9 M335.3,763.3 L351.0,764.0 M335.3,765.4 L351.0,766.1 M335.3,767.6 L351.0,768.3 M335.3,769.7 L351.0,770.4 M335.3,771.9 L351.0,772.6 M335.3,774.0 L351.0,774.7 M335.3,776.2 L351.0,776.9 M335.3,778.3 L351.0,779.0 M335.3,780.5 L351.0,781.2 M335.3,782.6 L351.0,783.3 M335.3,784.8 L351.0,785.5 M335.3,786.9 L351.0,787.6 M335.3,789.1 L351.0,789.8 " stroke="#7f9abb" stroke-width="0.8" opacity="0.6" fill="none"/><ellipse cx="343.1" cy="755.9" rx="7.4" ry="2.2" fill="#e9f1f8"/></g><g transform="rotate(3.76 632.2 791.5)"><path d="M624,791.5 L624,756.5 Q624,753.5 627,753.5 L637.5,753.5 Q640.5,753.5 640.5,756.5 L640.5,791.5 Z" fill="url(#bolt)"/><path d="M624.3,759.0 L640.2,759.7 M624.3,761.1 L640.2,761.9 M624.3,763.3 L640.2,764.0 M624.3,765.4 L640.2,766.1 M624.3,767.6 L640.2,768.3 M624.3,769.7 L640.2,770.4 M624.3,771.9 L640.2,772.6 M624.3,774.0 L640.2,774.7 M624.3,776.2 L640.2,776.9 M624.3,778.3 L640.2,779.0 M624.3,780.5 L640.2,781.2 M624.3,782.6 L640.2,783.3 M624.3,784.8 L640.2,785.5 M624.3,786.9 L640.2,787.6 M624.3,789.1 L640.2,789.8 " stroke="#7f9abb" stroke-width="0.8" opacity="0.6" fill="none"/><ellipse cx="632.2" cy="755.9" rx="7.5" ry="2.2" fill="#e9f1f8"/></g>
<path d="M306.7,829.0 Q307.7,822.6 314.2,822.6 L364.4,822.6 Q370.9,822.6 371.6,829.1 L373.9,848.0 Q374.6,854.5 368.1,854.5 L309.4,854.5 Q302.9,854.5 303.9,848.1 Z" fill="#f1eeee"/><path d="M306.8,827.8 Q307.7,821.4 314.2,821.4 L363.4,821.4 Q369.9,821.4 370.5,827.9 L372.2,848.0 Q372.8,854.5 366.3,854.5 L309.7,854.5 Q303.2,854.5 304.1,848.1 Z" fill="#c72c3a"/><path d="M307.1,827.3 Q308.0,821.4 314.0,821.4 L363.7,821.4 Q369.7,821.4 370.1,827.4 L371.2,841.9 Q371.6,847.9 365.6,847.9 L310.2,847.9 Q304.2,847.9 305.1,841.9 Z" fill="#d8414a"/><path d="M314.6,827.7 Q316.9,823.3 321.9,823.3 L356.8,823.3 Q361.8,823.3 363.3,828.1 L363.5,828.7 Q365.0,833.5 364.4,838.5 L364.0,841.0 Q363.4,846.0 358.4,846.0 L318.2,846.0 Q313.2,846.0 312.6,841.0 L312.2,838.5 Q311.6,833.5 313.9,829.1 Z" fill="#eeeef0"/><path d="M316.6,840.2 Q316.9,838.7 318.4,838.7 L357.1,838.7 Q358.6,838.7 358.9,840.2 L359.3,842.3 Q359.7,843.7 358.2,843.7 L317.4,843.7 Q315.9,843.7 316.2,842.3 Z" fill="#cdc6c8"/><path d="M321.2,827.0 Q322.3,824.2 325.3,824.2 L353.5,824.2 Q356.5,824.2 357.1,827.1 L359.0,835.4 Q359.7,838.3 356.7,838.3 L319.9,838.3 Q316.9,838.3 318.0,835.5 Z" fill="#f7f7f8"/><path d="M602.0,827.2 Q602.7,820.7 609.2,820.7 L664.3,820.7 Q670.8,820.7 671.3,827.2 L672.9,849.4 Q673.4,855.9 666.9,855.9 L605.6,855.9 Q599.1,855.9 599.8,849.4 Z" fill="#17191e"/><path d="M602.9,827.5 Q603.5,821.5 609.5,821.5 L664.0,821.5 Q670.0,821.5 670.4,827.5 L672.1,849.0 Q672.5,855.0 666.5,855.0 L606.0,855.0 Q600.0,855.0 600.6,849.0 Z" fill="#f1f6fa"/><path d="M619.3,826.6 Q620.8,824.0 623.8,824.0 L653.1,824.0 Q656.1,824.0 657.3,826.7 L660.8,834.5 Q662.0,837.2 661.2,840.1 L660.4,843.1 Q659.5,846.0 656.5,846.0 L619.4,846.0 Q616.4,846.0 615.3,843.2 L614.1,840.0 Q613.0,837.2 614.5,834.6 Z" fill="#ccd2da"/><path d="M619.3,826.6 Q620.8,824.0 623.8,824.0 L653.1,824.0 Q656.1,824.0 657.3,826.7 L660.5,834.0 Q661.7,836.8 660.1,839.2 L660.1,839.2 Q658.6,841.6 655.6,841.6 L620.4,841.6 Q617.4,841.6 615.5,839.3 L615.2,839.0 Q613.3,836.8 614.8,834.2 Z" fill="#e1e6ec"/><path d="M626.3,827.6 Q626.7,825.1 629.2,825.1 L647.7,825.1 Q650.2,825.1 650.6,827.6 L651.8,835.2 Q652.2,837.6 649.7,837.6 L627.3,837.6 Q624.8,837.6 625.1,835.2 Z" fill="#edf1f5"/><g transform="rotate(0.00 339.6 832.4)"><path d="M331.1,832.4 L331.1,800.3 Q331.1,797.3 334.1,797.3 L345,797.3 Q348,797.3 348,800.3 L348,832.4 Z" fill="url(#bolt)"/><path d="M331.40000000000003,802.8 L347.7,803.5 M331.40000000000003,804.9 L347.7,805.6 M331.40000000000003,807.1 L347.7,807.8 M331.40000000000003,809.2 L347.7,809.9 M331.40000000000003,811.4 L347.7,812.1 M331.40000000000003,813.5 L347.7,814.2 M331.40000000000003,815.7 L347.7,816.4 M331.40000000000003,817.8 L347.7,818.5 M331.40000000000003,820.0 L347.7,820.7 M331.40000000000003,822.1 L347.7,822.8 M331.40000000000003,824.3 L347.7,825.0 M331.40000000000003,826.4 L347.7,827.1 M331.40000000000003,828.6 L347.7,829.3 " stroke="#7f9abb" stroke-width="0.8" opacity="0.6" fill="none"/><ellipse cx="339.6" cy="799.6999999999999" rx="7.6" ry="2.2" fill="#e9f1f8"/></g><g transform="rotate(4.35 639.2 836.0)"><path d="M630.5,836 L630.5,802.2 Q630.5,799.2 633.5,799.2 L645,799.2 Q648,799.2 648,802.2 L648,836 Z" fill="url(#bolt)"/><path d="M630.8,804.7 L647.7,805.4 M630.8,806.9 L647.7,807.6 M630.8,809.0 L647.7,809.7 M630.8,811.1 L647.7,811.9 M630.8,813.3 L647.7,814.0 M630.8,815.4 L647.7,816.1 M630.8,817.6 L647.7,818.3 M630.8,819.7 L647.7,820.4 M630.8,821.9 L647.7,822.6 M630.8,824.0 L647.7,824.7 M630.8,826.2 L647.7,826.9 M630.8,828.3 L647.7,829.0 M630.8,830.5 L647.7,831.2 M630.8,832.6 L647.7,833.3 " stroke="#7f9abb" stroke-width="0.8" opacity="0.6" fill="none"/><ellipse cx="639.2" cy="801.6" rx="8.0" ry="2.2" fill="#e9f1f8"/></g>
<path d="M608.4,875.7 Q609.0,869.2 615.5,869.2 L673.5,869.2 Q680.0,869.2 680.4,875.7 L682.2,900.7 Q682.6,907.2 676.1,907.2 L611.9,907.2 Q605.4,907.2 606.0,900.7 Z" fill="#17191e"/><path d="M609.2,876.0 Q609.8,870.0 615.8,870.0 L673.2,870.0 Q679.2,870.0 679.6,876.0 L681.3,900.3 Q681.7,906.3 675.7,906.3 L612.3,906.3 Q606.3,906.3 606.9,900.3 Z" fill="#f1f6fa"/><path d="M624.1,875.0 Q625.7,872.5 628.7,872.5 L663.4,872.5 Q666.4,872.5 667.7,875.2 L671.9,883.9 Q673.2,886.6 672.3,889.5 L671.2,893.1 Q670.4,896.0 667.4,896.0 L623.7,896.0 Q620.7,896.0 619.5,893.2 L617.9,889.4 Q616.7,886.6 618.3,884.1 Z" fill="#ccd2da"/><path d="M624.1,875.0 Q625.7,872.5 628.7,872.5 L663.4,872.5 Q666.4,872.5 667.7,875.2 L671.6,883.4 Q672.9,886.1 671.2,888.6 L671.0,888.9 Q669.2,891.3 666.2,891.3 L624.8,891.3 Q621.8,891.3 619.7,889.1 L619.0,888.3 Q617.0,886.1 618.6,883.6 Z" fill="#e1e6ec"/><path d="M632.1,876.1 Q632.5,873.7 635.0,873.7 L657.1,873.7 Q659.6,873.7 660.1,876.1 L661.5,884.6 Q661.9,887.1 659.4,887.1 L632.8,887.1 Q630.3,887.1 630.7,884.6 Z" fill="#edf1f5"/><path d="M297.3,878.5 Q297.5,873.5 302.5,873.4 L364.5,871.8 Q369.5,871.7 369.9,876.7 L371.8,900.0 Q372.2,905.0 367.2,905.0 L301.0,905.0 Q296.0,905.0 296.2,900.0 Z" fill="#f1eeee"/><path d="M297.3,878.5 Q297.5,873.5 302.5,873.4 L363.5,871.8 Q368.5,871.7 368.8,876.7 L370.5,900.0 Q370.8,905.0 365.8,905.0 L301.0,905.0 Q296.0,905.0 296.2,900.0 Z" fill="#cf3642"/><g transform="rotate(4.00 646.5 886.0)"><path d="M637.3,886 L637.3,849 Q637.3,846 640.3,846 L652.8,846 Q655.8,846 655.8,849 L655.8,886 Z" fill="url(#bolt)"/><path d="M637.5999999999999,851.5 L655.5,852.2 M637.5999999999999,853.6 L655.5,854.4 M637.5999999999999,855.8 L655.5,856.5 M637.5999999999999,857.9 L655.5,858.6 M637.5999999999999,860.1 L655.5,860.8 M637.5999999999999,862.2 L655.5,862.9 M637.5999999999999,864.4 L655.5,865.1 M637.5999999999999,866.5 L655.5,867.2 M637.5999999999999,868.7 L655.5,869.4 M637.5999999999999,870.8 L655.5,871.5 M637.5999999999999,873.0 L655.5,873.7 M637.5999999999999,875.1 L655.5,875.8 M637.5999999999999,877.3 L655.5,878.0 M637.5999999999999,879.4 L655.5,880.1 M637.5999999999999,881.6 L655.5,882.3 M637.5999999999999,883.7 L655.5,884.4 " stroke="#7f9abb" stroke-width="0.8" opacity="0.6" fill="none"/><ellipse cx="646.5" cy="848.4" rx="8.4" ry="2.2" fill="#e9f1f8"/></g>
<path d="M615.5,928.3 Q616.1,921.8 622.6,921.8 L682.6,921.8 Q689.1,921.8 689.5,928.3 L691.3,956.0 Q691.7,962.5 685.2,962.5 L619.0,962.5 Q612.5,962.5 613.1,956.0 Z" fill="#17191e"/><path d="M616.4,928.6 Q616.9,922.6 622.9,922.6 L682.3,922.6 Q688.3,922.6 688.7,928.6 L690.4,955.6 Q690.8,961.6 684.8,961.6 L619.4,961.6 Q613.4,961.6 613.9,955.6 Z" fill="#f1f6fa"/><path d="M630.1,927.8 Q631.7,925.2 634.7,925.2 L669.8,925.2 Q672.8,925.2 674.1,927.9 L678.5,937.6 Q679.7,940.4 678.9,943.3 L677.7,947.6 Q676.8,950.5 673.8,950.5 L629.5,950.5 Q626.5,950.5 625.4,947.7 L623.6,943.2 Q622.5,940.4 624.0,937.8 Z" fill="#ccd2da"/><path d="M630.1,927.8 Q631.7,925.2 634.7,925.2 L669.8,925.2 Q672.8,925.2 674.1,927.9 L678.2,937.1 Q679.4,939.9 677.7,942.4 L677.4,942.9 Q675.7,945.4 672.7,945.4 L630.6,945.4 Q627.6,945.4 625.7,943.2 L624.8,942.1 Q622.8,939.9 624.3,937.3 Z" fill="#e1e6ec"/><path d="M638.1,928.9 Q638.5,926.5 641.0,926.5 L663.5,926.5 Q666.0,926.5 666.4,928.9 L667.9,938.4 Q668.3,940.9 665.8,940.9 L638.7,940.9 Q636.2,940.9 636.6,938.4 Z" fill="#edf1f5"/><path d="M292.0,931.7 Q292.5,925.7 298.5,925.7 L360.8,925.7 Q366.8,925.7 367.3,931.7 L369.1,956.0 Q369.6,962.0 363.6,962.0 L295.5,962.0 Q289.5,962.0 290.0,956.0 Z" fill="#f1eeee"/><path d="M292.0,931.7 Q292.5,925.7 298.5,925.7 L359.8,925.7 Q365.8,925.7 366.2,931.7 L367.8,956.0 Q368.2,962.0 362.2,962.0 L295.5,962.0 Q289.5,962.0 290.0,956.0 Z" fill="#c72c3a"/><path d="M292.4,931.2 Q292.8,925.7 298.3,925.7 L360.0,925.7 Q365.5,925.7 365.8,931.2 L367.0,949.5 Q367.3,955.0 361.8,955.0 L296.0,955.0 Q290.5,955.0 290.9,949.5 Z" fill="#d8414a"/><g transform="rotate(7.23 652.4 941.0)"><path d="M642.6,941 L642.6,903 Q642.6,900 645.6,900 L659.2,900 Q662.2,900 662.2,903 L662.2,941 Z" fill="url(#bolt)"/><path d="M642.9,905.5 L661.9000000000001,906.2 M642.9,907.6 L661.9000000000001,908.4 M642.9,909.8 L661.9000000000001,910.5 M642.9,911.9 L661.9000000000001,912.6 M642.9,914.1 L661.9000000000001,914.8 M642.9,916.2 L661.9000000000001,916.9 M642.9,918.4 L661.9000000000001,919.1 M642.9,920.5 L661.9000000000001,921.2 M642.9,922.7 L661.9000000000001,923.4 M642.9,924.8 L661.9000000000001,925.5 M642.9,927.0 L661.9000000000001,927.7 M642.9,929.1 L661.9000000000001,929.8 M642.9,931.3 L661.9000000000001,932.0 M642.9,933.4 L661.9000000000001,934.1 M642.9,935.6 L661.9000000000001,936.3 M642.9,937.7 L661.9000000000001,938.4 " stroke="#7f9abb" stroke-width="0.8" opacity="0.6" fill="none"/><ellipse cx="652.4" cy="902.4" rx="9.0" ry="2.2" fill="#e9f1f8"/></g>
<path d="M304.2,853.5 Q304.4,850.0 307.9,850.0 L358.5,850.0 Q362.0,850.0 362.0,853.5 L360.8,955.1 Q360.8,958.6 357.3,958.6 L301.9,958.6 Q298.4,958.6 298.6,955.1 Z" fill="#77777a"/><path d="M305.0,854.1 Q305.2,850.6 308.7,850.6 L357.7,850.6 Q361.2,850.6 361.2,854.1 L360.0,954.1 Q360.0,957.6 356.5,957.6 L303.1,957.6 Q299.6,957.6 299.8,954.1 Z" fill="url(#bus)"/><path d="M299.6,953.0 Q299.6,953.0 299.6,953.0 L359.9,953.0 Q359.9,953.0 359.9,953.0 L359.9,955.4 Q359.8,957.8 356.8,957.8 L302.2,957.8 Q299.2,957.8 299.4,955.4 Z" fill="#f6f6f4"/><path d="M299.8,952.6 L359.9,952.6" stroke="#aaa9a6" stroke-width="0.9"/>
<ellipse cx="332.8" cy="884.6" rx="21.1" ry="7.5" fill="#5f5f62"/><ellipse cx="332.8" cy="883.0" rx="21.6" ry="7.5" fill="#a9a9ac"/><ellipse cx="332.8" cy="881.4" rx="21.0" ry="6.5" fill="#ededee"/><ellipse cx="332.8" cy="880.8" rx="16.6" ry="4.7" fill="#cfcfd2"/><ellipse cx="332.8" cy="878.7" rx="17.2" ry="4.2" fill="#77777b"/><path d="M316.0,870.2 Q316.0,869.2 317.0,869.2 L348.5,869.2 Q349.5,869.2 349.5,870.2 L349.5,875.7 Q349.5,876.7 348.6,877.1 L342.0,879.8 Q341.1,880.2 340.1,880.2 L325.4,880.2 Q324.4,880.2 323.5,879.8 L316.9,877.1 Q316.0,876.7 316.0,875.7 Z" fill="#97979b"/><polygon points="324.375,872.4 341.125,872.4 341.125,880.2 324.375,880.2" fill="#c6c6c9"/><polygon points="316,869.2 324.375,872.4 324.375,880.2 316,876.7" fill="#b0b0b3"/><polygon points="316.0,869.2 324.4,866.0 341.1,866.0 349.5,869.2 341.1,872.4 324.4,872.4" fill="#ececee"/><g transform="rotate(0.00 331.6 869.5)"><path d="M322,869.5 L322,849.6 Q322,846.6 325,846.6 L338.2,846.6 Q341.2,846.6 341.2,849.6 L341.2,869.5 Z" fill="url(#bolt)"/><path d="M322.3,852.1 L340.9,852.8 M322.3,854.2 L340.9,855.0 M322.3,856.4 L340.9,857.1 M322.3,858.5 L340.9,859.2 M322.3,860.7 L340.9,861.4 M322.3,862.8 L340.9,863.5 M322.3,865.0 L340.9,865.7 M322.3,867.1 L340.9,867.8 " stroke="#7f9abb" stroke-width="0.8" opacity="0.6" fill="none"/><ellipse cx="331.6" cy="849.0" rx="8.8" ry="2.2" fill="#e9f1f8"/></g><ellipse cx="328.0" cy="937.4" rx="22.3" ry="8.8" fill="#5f5f62"/><ellipse cx="328.0" cy="935.8" rx="22.8" ry="8.8" fill="#a9a9ac"/><ellipse cx="328.0" cy="934.1" rx="22.2" ry="7.8" fill="#ededee"/><ellipse cx="328.0" cy="933.5" rx="17.8" ry="6.0" fill="#cfcfd2"/><ellipse cx="328.0" cy="932.7" rx="19.1" ry="4.2" fill="#77777b"/><path d="M309.4,921.2 Q309.4,920.2 310.4,920.2 L345.6,920.2 Q346.6,920.2 346.6,921.2 L346.6,929.7 Q346.6,930.7 345.7,931.1 L338.2,933.8 Q337.3,934.2 336.3,934.2 L319.7,934.2 Q318.7,934.2 317.8,933.8 L310.3,931.1 Q309.4,930.7 309.4,929.7 Z" fill="#97979b"/><polygon points="318.7,923.4 337.3,923.4 337.3,934.2 318.7,934.2" fill="#c6c6c9"/><polygon points="309.4,920.2 318.7,923.4 318.7,934.2 309.4,930.7" fill="#b0b0b3"/><polygon points="309.4,920.2 318.7,917.0 337.3,917.0 346.6,920.2 337.3,923.4 318.7,923.4" fill="#ececee"/><g transform="rotate(0.00 326.8 921.0)"><path d="M316.6,921 L316.6,900.6 Q316.6,897.6 319.6,897.6 L334,897.6 Q337,897.6 337,900.6 L337,921 Z" fill="url(#bolt)"/><path d="M316.90000000000003,903.1 L336.7,903.8 M316.90000000000003,905.2 L336.7,906.0 M316.90000000000003,907.4 L336.7,908.1 M316.90000000000003,909.5 L336.7,910.2 M316.90000000000003,911.7 L336.7,912.4 M316.90000000000003,913.8 L336.7,914.5 M316.90000000000003,916.0 L336.7,916.7 M316.90000000000003,918.1 L336.7,918.8 " stroke="#7f9abb" stroke-width="0.8" opacity="0.6" fill="none"/><ellipse cx="326.8" cy="900.0" rx="9.4" ry="2.2" fill="#e9f1f8"/></g>
</svg>
</body></html>
